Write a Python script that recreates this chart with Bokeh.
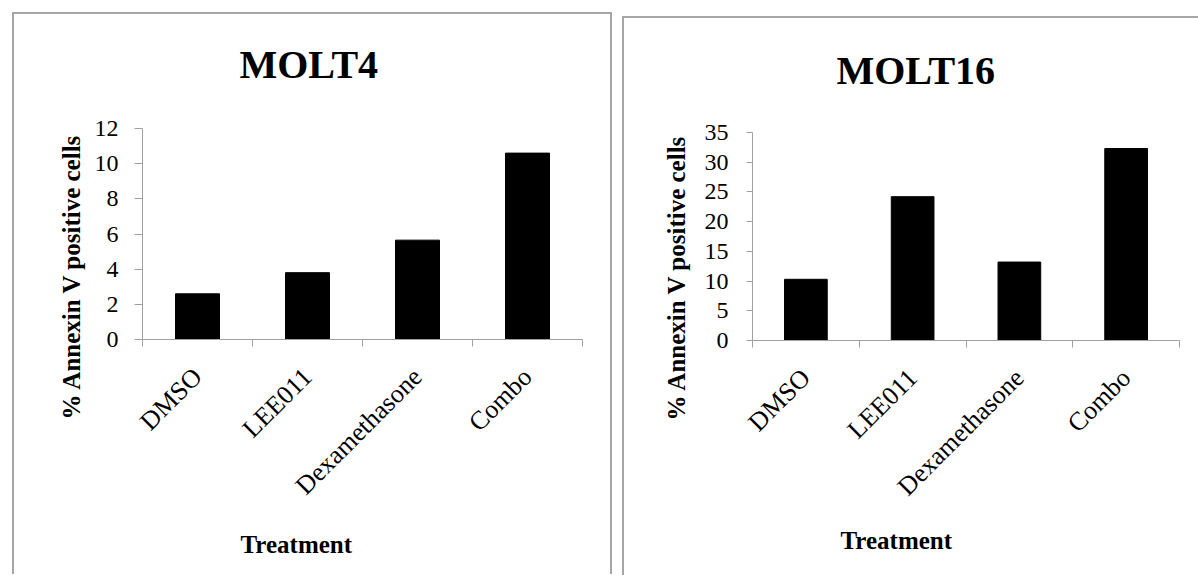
from math import pi
from bokeh.plotting import figure
from bokeh.models import Range1d, FixedTicker, LinearAxis, Title, ColumnDataSource
from bokeh.layouts import row
from bokeh.embed import file_html
from bokeh.resources import INLINE

# ---------------- data ----------------
categories = ["DMSO", "LEE011", "Dexamethasone", "Combo"]
molt4_values = [2.6, 3.8, 5.65, 10.6]
molt16_values = [10.3, 24.2, 13.2, 32.3]
molt4_yticks = [0, 2, 4, 6, 8, 10, 12]
molt16_yticks = [0, 5, 10, 15, 20, 25, 30, 35]
panel_titles = ["MOLT4", "MOLT16"]
x_title = "Treatment"
y_title = "% Annexin V positive cells"

SERIF = "Liberation Serif"
GREY = "#a0a0a0"
BORDER = "2px solid #a6a6a6"


def make_panel(title, values, yticks, width, height, frame, margin, styles,
               title_off, title_gap, ytitle_off, ytitle_standoff,
               xtitle_off, xtitle_standoff, ytick_out, ystandoff):
    n = len(categories)
    centers = [i + 0.5 for i in range(n)]
    fl, fr, ft, fb = frame
    p = figure(width=width, height=height, output_backend="svg",
               toolbar_location=None, title=None, x_range=Range1d(0, n),
               y_range=Range1d(0, yticks[-1]), x_axis_type=None,
               y_axis_type=None, min_border_left=fl,
               min_border_right=width - fr, min_border_top=ft,
               min_border_bottom=height - fb, margin=margin, styles=styles)
    p.outline_line_color = None
    p.background_fill_color = "white"
    p.border_fill_color = "white"

    src = ColumnDataSource(dict(x=centers, top=values, cat=categories))
    p.vbar(x="x", top="top", bottom=0, width=0.4, source=src,
           fill_color="black", line_color="black")

    yaxis = LinearAxis(ticker=FixedTicker(ticks=yticks),
                       axis_line_color=GREY, major_tick_line_color=GREY,
                       major_tick_out=ytick_out, major_tick_in=0,
                       minor_tick_line_color=None,
                       major_label_text_font=SERIF,
                       major_label_text_font_size="24px",
                       major_label_text_color="black",
                       major_label_standoff=ystandoff)
    p.add_layout(yaxis, "left")

    xaxis = LinearAxis(ticker=FixedTicker(ticks=centers,
                                          minor_ticks=list(range(n + 1))),
                       axis_line_color=GREY, major_tick_line_color=None,
                       minor_tick_line_color=GREY, minor_tick_out=7,
                       minor_tick_in=0,
                       major_label_overrides={c: cat for c, cat in zip(centers, categories)},
                       major_label_orientation=pi / 4,
                       major_label_text_font=SERIF,
                       major_label_text_font_size="26px",
                       major_label_text_color="black",
                       major_label_standoff=26)
    p.add_layout(xaxis, "below")

    # spacer between frame and chart title, then the chart title
    p.add_layout(Title(text=" ", text_font_size="1px", standoff=title_gap),
                 "above")
    p.add_layout(Title(text=title, align="left", offset=title_off,
                       standoff=0, text_font=SERIF, text_font_style="bold",
                       text_font_size="40px", text_color="black"), "above")

    p.add_layout(Title(text=y_title, align="left", offset=ytitle_off,
                       standoff=ytitle_standoff, text_font=SERIF,
                       text_font_style="bold", text_font_size="25px",
                       text_color="black"), "left")
    p.add_layout(Title(text=x_title, align="left", offset=xtitle_off,
                       standoff=xtitle_standoff, text_font=SERIF,
                       text_font_style="bold", text_font_size="25px",
                       text_color="black"), "below")
    return p


p1 = make_panel(panel_titles[0], molt4_values, molt4_yticks, 596, 560,
                (128, 564, 113, 323), (12, 0, 0, 12),
                {"box-sizing": "content-box", "border-left": BORDER,
                 "border-top": BORDER, "border-right": BORDER},
                97, 39, -80, 13, 98, 30, 8, 16)
p2 = make_panel(panel_titles[1], molt16_values, molt16_yticks, 574, 557,
                (128, 553, 114, 325), (16, 0, 0, 10),
                {"box-sizing": "content-box", "border-left": BORDER,
                 "border-top": BORDER},
                84, 37, -80, 23, 88, 20, 6, 18)

layout = row(p1, p2, spacing=0)
open("out.html", "w").write(file_html(layout, INLINE))
